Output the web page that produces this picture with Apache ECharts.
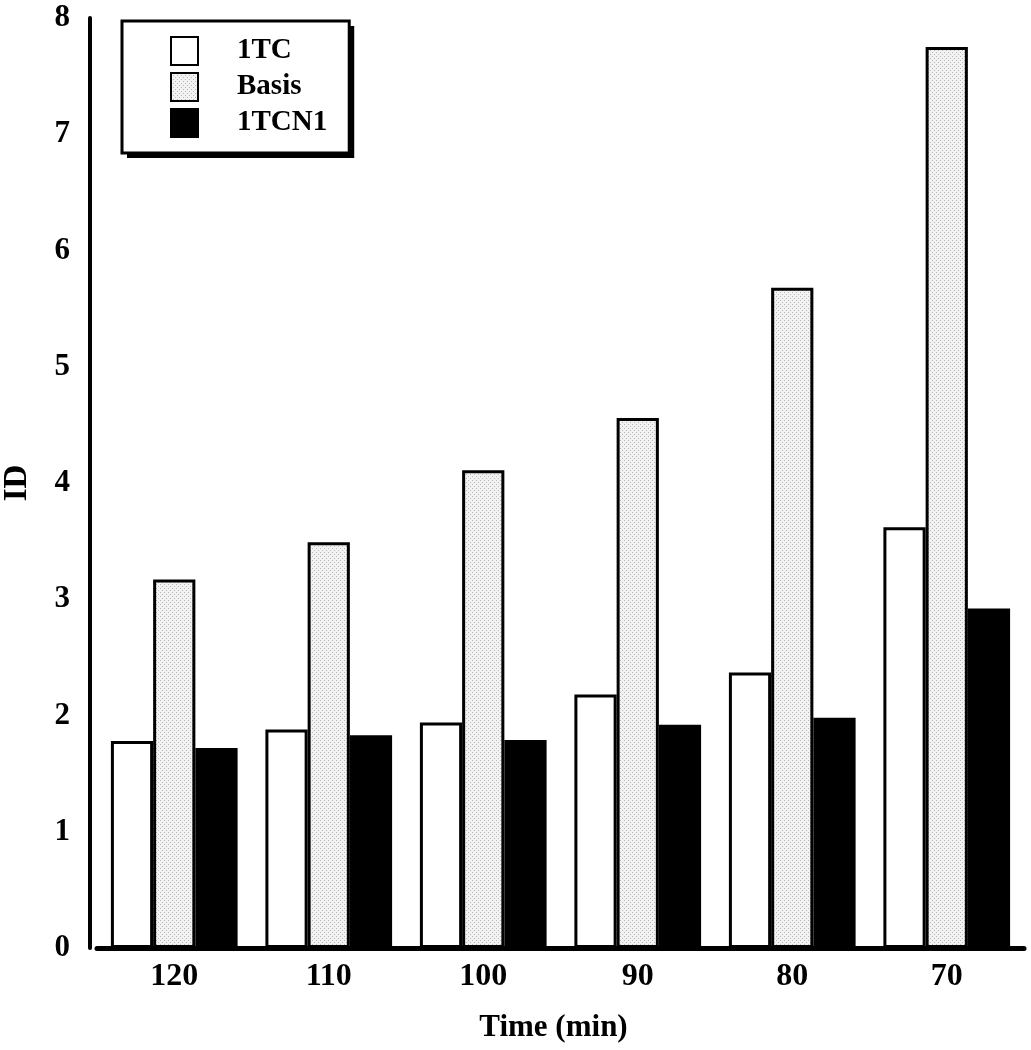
<!DOCTYPE html>
<html>
<head>
<meta charset="utf-8">
<script src="https://cdn.jsdelivr.net/npm/echarts@6/dist/echarts.min.js"></script>
<style>
  html, body { margin: 0; padding: 0; background: #fff; }
  #main { width: 1031px; height: 1050px; }
</style>
</head>
<body>
<div id="main"></div>
<script>
// data
const categories = ['120', '110', '100', '90', '80', '70']
const valTC = [1.78, 1.88, 1.94, 2.18, 2.37, 3.62]
const valBasis = [3.17, 3.49, 4.11, 4.56, 5.68, 7.75]
const valTCN1 = [1.72, 1.83, 1.79, 1.92, 1.98, 2.92]
const yTicks = [0, 1, 2, 3, 4, 5, 6, 7, 8]

// dotted grey fill for "Basis"
const pat = document.createElement('canvas')
pat.width = 4
pat.height = 4
const ctx = pat.getContext('2d')
ctx.fillStyle = '#f2f2f2'
ctx.fillRect(0, 0, 4, 4)
ctx.fillStyle = '#b8b8b8'
ctx.fillRect(0, 0, 1, 1)
ctx.fillRect(2, 2, 1, 1)
const basisFill = { image: pat, repeat: 'repeat' }

const font = '"Liberation Serif", "Times New Roman", serif'

// legend layout shared by the shadow box and the real legend
const legendBase = {
  orient: 'vertical',
  left: 122,
  top: 21,
  icon: 'rect',
  itemWidth: 27,
  itemHeight: 28,
  itemGap: 6,
  padding: [15, 22, 15, 48],
  data: ['1TC', 'Basis', '1TCN1']
}
const legendText = { fontFamily: font, fontWeight: 'bold', fontSize: 29, lineHeight: 28, padding: [0, 0, 0, 34] }

const myChart = echarts.init(document.getElementById('main'))
const option = {
  animation: false,
  backgroundColor: '#fff',
  textStyle: { fontFamily: font },
  grid: { left: 97, right: 7, top: 18, bottom: 102, outerBoundsMode: 'none', containLabel: false },
  legend: [
    // drop shadow only (fill, no border)
    Object.assign({}, legendBase, {
      backgroundColor: '#fff',
      shadowColor: '#000',
      shadowOffsetX: 5,
      shadowOffsetY: 5,
      shadowBlur: 0,
      itemStyle: { opacity: 0 },
      textStyle: Object.assign({}, legendText, { color: 'rgba(0,0,0,0)' })
    }),
    // framed legend
    Object.assign({}, legendBase, {
      borderColor: '#000',
      borderWidth: 3,
      textStyle: Object.assign({}, legendText, { color: '#000' })
    })
  ],
  xAxis: {
    type: 'category',
    data: categories,
    name: 'Time (min)',
    nameLocation: 'middle',
    nameGap: 64,
    nameTextStyle: { fontFamily: font, fontWeight: 'bold', fontSize: 31, color: '#000', padding: [0, 14, 0, 0] },
    axisLine: { lineStyle: { color: '#000', width: 5 } },
    axisTick: { show: false },
    axisLabel: { fontFamily: font, fontWeight: 'bold', fontSize: 32, color: '#000', margin: 13 }
  },
  yAxis: {
    type: 'value',
    min: yTicks[0],
    max: yTicks[yTicks.length - 1],
    interval: 1,
    offset: 7,
    name: 'ID',
    nameLocation: 'middle',
    nameGap: 56,
    nameRotate: 90,
    nameTextStyle: { fontFamily: font, fontWeight: 'bold', fontSize: 33, color: '#000' },
    axisLine: { show: true, lineStyle: { color: '#000', width: 4 } },
    axisTick: { show: false },
    splitLine: { show: false },
    axisLabel: { fontFamily: font, fontWeight: 'bold', fontSize: 31, color: '#000', margin: 20 }
  },
  series: [
    {
      name: '1TC', type: 'bar', data: valTC,
      barGap: '0%', barCategoryGap: '18%',
      itemStyle: { color: '#fff', borderColor: '#000', borderWidth: 3 }
    },
    {
      name: 'Basis', type: 'bar', data: valBasis,
      barGap: '0%', barCategoryGap: '18%',
      itemStyle: { color: basisFill, borderColor: '#000', borderWidth: 3 }
    },
    {
      name: '1TCN1', type: 'bar', data: valTCN1,
      barGap: '0%', barCategoryGap: '18%',
      itemStyle: { color: '#000', borderColor: '#000', borderWidth: 3 }
    }
  ]
}
myChart.setOption(option)
window.onresize = () => {
  myChart.resize()
}
</script>
</body>
</html>
